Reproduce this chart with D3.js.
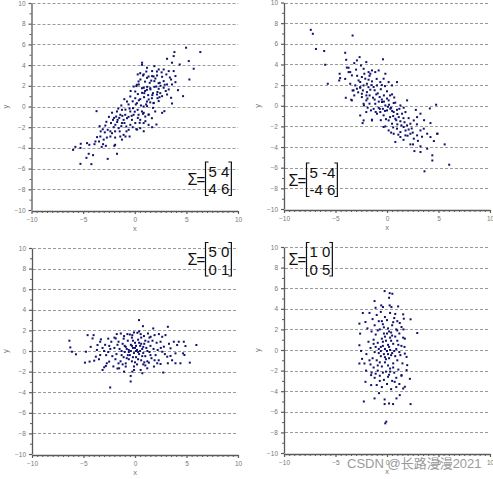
<!DOCTYPE html>
<html>
<head>
<meta charset="utf-8">
<script src="https://cdn.jsdelivr.net/npm/d3@7"></script>
<style>
html,body{margin:0;padding:0;background:#fff;}
svg{display:block;}
</style>
</head>
<body>
<svg id="chart" width="493" height="479"></svg>
<script>
// ---------------- data ----------------
const matrixA = ["5 4", "4 6"];
const matrixB = ["5 -4", "-4 6"];
const matrixC = ["5 0", "0 1"];
const matrixD = ["1 0", "0 5"];

const yMajorTicks = [-10,-8,-6,-4,-2,0,2,4,6,8,10];
const xMajorTicks = [-10,-5,0,5,10];
const gridValues = [-8,-6,-4,-2,0,2,4,6,8,10];

const pointsA = [
[-5.97,-4.19],[-5.75,-3.9],[-5.26,-4.0],[-5.23,-3.6],[-5.26,-5.54],[-4.46,-4.57],[-4.68,-4.96],[-4.2,-5.57],[-4.04,-4.7],[-4.62,-3.54],[-4.4,-3.7],[-3.81,-3.38],[-3.9,-3.64],[-3.65,-2.96],[-3.33,-2.9],[-3.46,-3.38],[-3.2,-3.9],[-3.07,-3.64],[-3.01,-3.2],[-2.62,-5.06],[-1.98,-3.8],[-1.72,-4.57],[-2.85,-1.84],[-2.75,-1.48],[-2.62,-2.25],[-2.36,-2.4],[-2.36,-2.9],[-2.2,-2.58],[-2.04,-2.0],[-1.88,-1.77],[-2.11,-1.29],[-1.8,-0.97],[-1.72,-0.48],[-1.66,-1.29],[-1.56,-2.09],[-1.46,-2.4],[-1.4,-2.9],[-1.24,-3.2],[-1.08,-2.74],[-1.24,-1.6],[-1.08,-1.29],[-1.4,-0.8],[-1.24,-0.32],[-0.92,-0.8],[-0.75,-1.13],[-0.82,-1.93],[-0.59,-2.25],[-0.5,-2.9],[-0.43,-1.77],[-0.27,-1.29],[-0.11,-0.8],[-0.43,-0.48],[-0.17,-0.16],[-0.75,0.48],[-1.01,0.71],[-0.43,0.97],[0.05,0.8],[0.21,0.32],[0.28,-0.32],[0.37,-0.8],[0.53,-1.29],[0.05,-1.6],[0.15,-2.19],[0.53,-2.09],[0.86,-1.6],[1.02,-0.97],[0.7,-0.48],[0.86,0],[1.18,0.48],[0.53,0.71],[0.92,1.29],[0.7,1.77],[1.18,1.61],[1.5,1.77],[1.76,1.29],[1.66,0.8],[1.82,0.32],[1.98,-0.48],[1.34,-0.8],[1.66,-1.13],[1.34,-1.77],[0.7,4.03],[1.12,3.38],[0.53,3.22],[1.34,2.9],[0.37,2.42],[-0.11,1.93],[0.05,1.45],[2.15,3.38],[1.82,2.9],[2.31,2.25],[2.08,1.93],[2.47,1.29],[2.21,0.8],
[-3.7,-0.45],[-2.5,-1.0],[-2.3,-1.6],[-2.0,-1.1],[-1.9,-2.4],[-1.7,-1.5],[-1.5,-1.1],[-1.3,-1.9],[-1.2,-0.9],[-1.0,-1.6],[-0.9,-0.3],[-0.8,-2.4],[-0.6,-1.0],[-0.5,-0.2],[-0.3,-0.9],[-0.2,-2.0],[0.0,-0.5],[0.1,0.2],[0.3,-1.1],[0.4,0.6],[0.6,0.1],[0.8,-0.7],[0.9,0.9],[1.1,0.2],[1.3,1.1],[1.5,0.4],[-1.6,-0.2],[-2.2,-0.6],[-2.9,-2.5],[-3.1,-2.2],[-2.7,-3.0],[-1.9,-3.0],[-0.9,-2.9],[-0.2,0.5],[0.3,1.2],[-0.6,0.2],[-1.3,0.1],[-0.4,1.5],[0.2,2.1],[1.0,2.4],[0.8,3.0],[-3.4,-1.9],[-3.3,-2.4],[-2.8,-3.8],[-1.9,-3.7],
[0.71,4.23],[1.19,3.74],[1.9,3.9],[2.32,3.58],[2.8,3.58],[3.13,4.61],[3.77,4.87],[3.84,5.26],[4.97,5.68],[6.35,5.26],[5.23,4.39],[5.71,3.65],[4.35,4.06],[3.61,4.23],[3.29,3.42],[3.77,3.42],[3.94,2.94],[3.52,2.61],[3.06,3.1],[2.65,2.87],[2.16,3.0],[1.68,2.94],[1.19,2.77],[1.45,2.29],[1.9,2.45],[2.42,2.29],[2.8,2.45],[3.13,2.13],[3.61,2.13],[3.94,2.35],[3.29,1.65],[2.8,1.81],[2.32,1.71],[1.9,1.9],[1.52,1.65],[2.16,1.16],[2.65,1.0],[3.13,1.16],[3.52,0.84],[4.19,1.58],[4.68,1.0],[5.29,2.61],[3.61,0.29],[2.87,-0.45],[2.65,-0.61],[2.1,-1.74],[1.68,-2.0],[1.84,0.35],[1.35,0.68],[2.32,0.52],[1.77,-0.13],[1.19,0.03],[0.87,-0.61],[1.35,-0.77],[0.87,-2.39],[0.23,-2.23],[0.48,-1.58],[1.03,-1.42],[0.71,1.32],[0.87,1.81],[0.39,2.13],[0.55,2.61],[0.87,3.1],[0.29,3.1],[0.16,1.97],[1.68,3.42],
[2.5,2.0],[2.0,2.7],[1.6,2.5],[2.9,2.1],[3.4,2.8],[2.2,1.4],[1.2,1.9],[2.6,3.3],[3.0,1.5],[1.0,1.5],[2.4,0.9],[1.7,1.1]
];

const pointsB = [
[-7.4,7.35],[-7.2,6.97],[-6.9,5.5],[-6.1,5.3],[-6.0,3.97],[-5.75,2.13],[-3.34,6.8],[-4.06,5.13],[-3.96,4.45],[-4.6,3.1],[-4.55,2.68],[-4.64,2.45],[-4.0,0.77],[-0.39,4.5],[6.04,-5.71],[5.6,-3.74],[4.9,-2.71],[4.77,0.1],[4.4,-4.8],[4.4,-5.3],[3.64,-6.35],[4.16,-0.26],[4.22,-1.68],
[-3.18,4.13],[-2.92,4.39],[-2.66,4.71],[-3.73,3.68],[-3.57,3.26],[-3.41,2.94],[-3.41,0.52],[-3.08,1.97],[-3.25,1.49],[-2.92,1.65],[-2.6,1.81],[-2.53,3.9],[-2.27,3.58],[-2.01,4.23],[-1.79,3.26],[-1.62,3.1],[-1.46,3.42],[-1.14,3.26],[-0.81,3.42],[-2.44,2.78],[-2.11,2.62],[-1.79,2.52],[-1.46,2.36],[-1.95,2.13],[-2.27,1.97],[-2.34,1.49],[-1.95,1.32],[-1.62,1.55],[-1.3,1.81],[-0.97,1.97],[-0.65,2.29],[-0.33,2.62],[-0.16,3.1],[0.16,2.29],[0.49,1.97],[0.97,2.29],[-2.44,0.84],[-2.01,0.52],[-1.69,1.0],[-1.36,0.78],[-1.04,1.1],[-0.71,0.84],[-2.27,0.19],[-1.88,-0.19],[-1.56,-0.45],[-2.27,-1.42],[-1.46,-1.35],[-1.14,0.19],[-0.81,-0.19],[-0.49,0.36],[-0.16,0.03],[0.16,0.52],[0.49,1.1],[0.65,0.26],[-0.97,-0.77],[-0.65,-0.61],[-0.33,-0.93],[0,-0.45],[0.32,-0.29],[0.65,-0.61],[0.97,-0.39],[1.3,0.03],[-0.33,-2.06],[-0.16,-2.0],[0.16,-1.42],[0.49,-1.74],[0.81,-1.26],[1.14,-1.1],[1.46,-0.77],[1.79,-0.61],[1.62,-0.19],[1.95,0.52],[0.16,-2.39],[0.65,-2.71],[0.97,-2.22],[1.3,-2.55],[1.62,-2.06],[1.95,-1.9],[2.27,-1.74],[2.6,-1.42],[2.92,-1.1],[3.25,-0.77],[0.81,-3.51],[1.3,-3.03],[1.79,-2.87],[2.27,-2.71],[2.6,-3.19],[2.92,-2.87],[3.25,-2.39],[3.57,-2.22],[3.9,-2.71],[2.27,-3.74],[2.53,-3.74],[3.25,-3.93],[3.9,-4.16],[4.22,-3.03],[4.55,-3.42],[4.87,-2.71],[2.66,-4.39],[3.25,-4.48],
[-4.06,2.6],[-3.73,3.26],[-3.57,2.13],[-3.34,1.48],[-3.18,1.0],[-3.47,0.58],[-2.76,2.45],[-2.6,1.74],[-2.44,1.16],[-2.6,-0.94],[-2.37,-1.68],[-2.24,0.03],[-2.01,-0.61],[-1.46,-1.42],
[-1.2,1.5],[-0.9,1.2],[-0.6,1.6],[-0.3,1.0],[0,1.4],[0.3,1.0],[-0.5,0.6],[0.1,-0.1],[0.4,-0.2],[0.8,0.3],[1.0,-0.8],[1.3,-1.5],[1.6,-1.2],[0.6,-1.0],[0.3,-1.1],[-0.1,-1.3],[1.0,-1.8],[1.8,-2.4],[2.1,-1.2],[2.4,-2.2],[0.2,0.1],[-0.4,-0.3],[-1.7,0.2],[-1.3,-0.3],[-2.0,1.0],[-2.6,2.3],[-2.9,2.9],[-1.5,2.0],[-0.2,1.9],[0.7,0.8],[1.2,-0.3],[1.7,-1.6],[2.0,-2.9],[2.9,-1.8],[3.4,-3.0],[3.0,-3.4],[0.4,-2.6],[-0.7,-0.3],[-1.9,0.7],
[-1.0,2.6],[-0.5,2.0],[-1.7,2.9],[-2.2,3.1],[-3.0,3.5],[-1.2,0.6],[-0.8,0.4],[-0.2,-0.5],[0.5,-0.5],[0.9,-1.4],[1.4,-1.9],[2.1,-2.3],[2.5,-2.6],[1.1,-2.8],[-0.6,-1.4],[-1.8,1.8],[-2.8,1.3],[-0.3,0.4],[0.6,-2.1],[1.6,-3.3],[2.8,-0.4],[3.6,-1.4],[-3.9,3.7],[-1.1,-0.6],[0.0,0.7]
];

const pointsC = [
[-6.37,1.0],[-6.28,0.35],[-6.12,-0.07],[-5.73,-0.32],[-4.76,-0.07],[-4.86,-1.13],[-4.6,1.54],[-4.02,1.54],[-4.12,1.22],[-4.41,-1.03],[-3.96,-0.94],[-3.64,0.58],[-3.7,0.1],[-3.31,1.13],[-3.38,0.9],[-3.8,-0.55],[-3.38,-0.39],[-3.15,-1.84],[-2.99,-1.58],[-2.83,-1.45],[-2.74,-1.19],[-2.51,-1.03],[-2.41,-3.54],[0.39,3.0],[-0.42,-2.96],[-0.42,-2.42],
[-3.15,0.3],[-2.9,0.6],[-2.6,-0.1],[-2.8,-0.4],[-2.4,0.2],[-2.2,-0.5],[-2.3,0.9],[-2.0,1.3],[-2.6,1.2],[-1.9,-0.8],[-2.1,-1.5],[-1.7,-1.7],[-3.5,-0.8],[-3.0,0.0],
[-1.87,1.22],[-1.77,1.64],[-1.38,1.7],[-1.06,1.45],[-0.74,1.64],[-0.26,1.54],[0.23,1.77],[0.55,1.64],[0.77,2.41],[0.87,1.45],[1.26,1.7],[1.52,1.38],[1.77,2.19],[1.9,1.54],[2.32,1.64],[2.64,1.38],[2.96,1.54],[3.19,2.35],
[3.77,0.9],[4.25,0.9],[4.74,0.9],[4.9,0.48],[4.67,-0.23],[4.8,-0.39],[3.93,-0.23],[3.45,-0.48],[3.13,-0.55],[4.41,-1.19],[5.32,-1.13],[5.96,0.58],[3.93,-1.19],[3.19,-1.19],[4.09,0.58],[3.45,0.26],[2.8,0.42],[2.64,-0.07],[2.48,0.9],
[2.16,-1.19],[2.48,-1.26],[2.74,-2.09],[1.84,-1.51],[1.19,-1.68],[0.55,-1.84],[-0.09,-1.84],[-0.26,-2.0],[-0.9,-1.51],[-1.54,-1.68],[-1.06,-2.0],[0.71,-2.16],[1.35,-1.13],
[-1.5,0.2],[-1.3,-0.4],[-1.2,0.7],[-1.0,-0.1],[-0.9,0.4],[-0.8,-0.7],[-0.7,1.0],[-0.6,0.1],[-0.5,-0.4],[-0.4,0.6],[-0.3,-1.0],[-0.2,0.3],[-0.1,-0.2],[0.0,0.8],[0.1,-0.6],[0.2,0.1],[0.3,1.1],[0.4,-0.3],[0.5,0.5],[0.6,-0.9],[0.7,0.2],[0.8,-0.2],[0.9,0.7],[1.0,-0.5],[1.1,0.3],[1.2,-1.0],[1.3,0.9],[1.4,-0.1],[1.5,0.5],[-1.4,-1.0],[-1.1,1.2],[-0.9,-1.2],[-0.3,1.3],[0.2,-1.3],[0.6,1.3],[1.0,1.0],[1.6,-0.7],[1.8,0.2],[2.0,-0.4],[2.1,0.8],[-1.7,0.6],[-1.8,-0.3],[-0.6,-0.1],[0.0,0.3],[0.3,-0.1],[-0.2,-0.6],[0.5,0.0],[-0.4,0.0],[0.8,0.4],[-1.0,0.5],[0.1,0.5],[-0.7,-0.4],[0.4,0.8],[1.2,0.0],[-1.3,0.0],[2.3,-0.9],[2.5,0.3],[2.9,-0.3],[3.3,0.7],[-0.1,1.8],[0.4,1.9],[-0.5,1.6],[1.0,-1.4],[-0.1,-1.5],[0.9,-1.1],[1.7,1.0],[-2.0,0.3],[-1.6,-1.2],
[-0.8,0.2],[-0.3,0.5],[0.1,0.0],[0.6,0.7],[-1.1,-0.6],[0.3,-0.8],[0.8,-1.3],[1.5,-0.4],[-1.6,0.9],[-0.6,-0.8],[1.9,-0.9],[2.2,0.1],[-2.5,0.5],[-1.2,-1.3],[0.0,-1.1],[1.4,1.3],[-0.2,1.0],[0.7,-0.5],[3.6,-0.9],[-4.3,0.4]
];

const pointsD = [
[-0.23,5.72],[0.26,5.52],[0.52,5.46],[0.2,5.07],[-1.21,4.75],[-0.56,4.33],[-0.39,4.17],[-1.11,4.1],[0.26,4.33],[0.43,4.17],[1.08,4.23],[-2.35,3.59],[-2.09,2.72],[-2.68,2.56],[-2.61,1.59],[1.57,3.46],[1.63,3.04],[2.29,2.98],[2.94,1.65],[-2.68,0.46],[-2.52,-0.09],[-2.42,-0.86],[-2.19,-1.31],[-2.68,-1.31],[-2.03,-2.0],[-2.09,-3.09],[-1.54,-2.44],[-1.54,-3.41],[-2.25,-5.0],[-1.21,-4.7],[-0.78,-4.19],[-0.23,-4.8],[-0.23,-5.25],[0.2,-5.19],[0.59,-5.25],[2.29,-5.25],[-0.07,-6.96],[-0.17,-7.12],[1.9,-1.96],[1.96,-1.47],[2.22,-2.8],[1.73,-3.57],[1.57,-3.74],[1.24,-4.38],[0.92,-4.7],[0.75,-3.09],[1.41,-2.44],[1.9,-0.67],[1.73,-0.35],[1.73,1.1],[1.57,1.2],[1.24,2.62],[1.41,2.23],
[-1.4,3.0],[-1.0,3.4],[-0.6,3.7],[-0.2,3.2],[0.3,3.6],[0.7,3.1],[1.0,2.8],[-1.2,2.4],[-0.8,2.8],[-0.4,2.5],[0.0,2.9],[0.5,2.4],[0.9,2.0],[-1.5,1.8],[-1.1,1.5],[-0.7,2.0],[-0.3,1.6],[0.1,2.1],[0.4,1.7],[0.8,1.3],[1.2,1.6],[-1.3,1.0],[-0.9,0.7],[-0.5,1.1],[-0.1,0.9],[0.3,1.2],[0.6,0.6],[1.0,0.9],[1.4,0.4],[-1.6,0.2],[-1.2,-0.2],[-0.8,0.1],[-0.4,0.4],[0.0,-0.1],[0.2,0.3],[0.5,-0.3],[0.9,0.1],[1.3,-0.5],[-1.4,-0.8],[-1.0,-1.0],[-0.6,-0.6],[-0.2,-1.2],[0.2,-0.8],[0.6,-1.3],[1.0,-1.0],[1.5,-1.3],[-1.3,-1.7],[-0.9,-2.0],[-0.5,-1.6],[-0.1,-2.1],[0.3,-1.8],[0.7,-2.2],[1.1,-1.9],[-1.2,-2.7],[-0.7,-2.5],[-0.3,-2.9],[0.1,-2.6],[0.5,-3.0],[0.9,-2.7],[-1.0,-3.4],[-0.5,-3.6],[0.0,-3.3],[0.4,-3.8],[1.2,-3.3],[-1.7,-1.0],[-1.8,0.8],[-1.9,2.1],[1.7,0.3],[-0.3,-0.4],[0.1,0.5],[-0.6,-0.1],[0.4,-0.5],[0.8,-0.6],[-0.2,1.3],[0.3,0.0],[-0.9,1.9],[0.6,2.7],[-0.4,-2.2],[0.2,-2.4],[-0.7,-1.2],[0.0,1.6],[-1.1,0.3],[1.1,0.5],[-0.2,-0.7],[0.7,-0.1],[-0.8,-0.3],[0.1,-1.5],[-0.4,0.8],[-1.5,-2.2],[1.4,-2.5],[1.6,2.0],[-1.7,3.6],[-2.0,-0.4],
[-0.6,0.3],[0.4,0.9],[-0.1,-0.9],[0.6,-1.7],[-0.9,-1.5],[0.2,1.8],[-0.5,2.8],[0.8,3.5],[-1.1,-2.3],[0.3,-2.1],[-0.3,2.2],[1.2,-0.2],[-1.3,0.6],[0.5,1.4],[-0.7,-3.0],[0.9,-3.6],[-0.2,0.1],[1.0,1.9],[-1.6,-1.4],[0.1,-0.4]
];

// ---------------- layout ----------------
const panels = [
  {pts: pointsA, mat: matrixA, left: 31.5, right: 238, top: 3, bottom: 210, mx: 205, my: 162},
  {pts: pointsB, mat: matrixB, left: 284, right: 490, top: 2.5, bottom: 209, mx: 306, my: 163},
  {pts: pointsC, mat: matrixC, left: 32, right: 238, top: 248, bottom: 454, mx: 205, my: 242.5},
  {pts: pointsD, mat: matrixD, left: 284, right: 490, top: 247, bottom: 453, mx: 306, my: 242.5}
];

const svg = d3.select("#chart");
const FONT = "'Liberation Sans', Arial, sans-serif";
const axisCol = "#5a5a5a";
const labCol = "#777";

panels.forEach(p => {
  const x = d3.scaleLinear().domain([-10, 10]).range([p.left, p.right]);
  const y = d3.scaleLinear().domain([-10, 10]).range([p.bottom, p.top]);
  const g = svg.append("g");

  // grid
  g.selectAll("line.grid").data(gridValues).enter().append("line")
    .attr("x1", p.left + 1).attr("x2", p.right)
    .attr("y1", d => Math.round(y(d)) + 0.5).attr("y2", d => Math.round(y(d)) + 0.5)
    .attr("stroke", "#9a9a9a").attr("stroke-width", 1)
    .attr("stroke-dasharray", "3,2");

  // minor y ticks
  const yMinor = g.append("g").attr("transform", `translate(${p.left},0)`)
    .call(d3.axisLeft(y).tickValues(d3.range(-9, 10, 2)).tickSize(2).tickFormat(""));
  yMinor.select(".domain").remove();
  yMinor.selectAll("line").attr("stroke", axisCol);

  // major y axis
  const yAx = g.append("g").attr("transform", `translate(${p.left},0)`)
    .call(d3.axisLeft(y).tickValues(yMajorTicks).tickSize(3).tickSizeOuter(0).tickPadding(3));
  yAx.select(".domain").attr("stroke", axisCol).attr("stroke-width", 1.3);
  yAx.selectAll("line").attr("stroke", axisCol).attr("stroke-width", 1.2);
  yAx.selectAll("text").attr("fill", labCol).style("font-family", FONT).style("font-size", "6.5px");

  // minor x ticks
  const xMinor = g.append("g").attr("transform", `translate(0,${p.bottom + 1})`)
    .call(d3.axisBottom(x).tickValues(d3.range(-9.5, 10, 0.5).filter(v => v % 5 !== 0)).tickSize(2).tickFormat(""));
  xMinor.select(".domain").remove();
  xMinor.selectAll("line").attr("stroke", axisCol);

  // major x axis
  const xAx = g.append("g").attr("transform", `translate(0,${p.bottom + 1})`)
    .call(d3.axisBottom(x).tickValues(xMajorTicks).tickSize(3).tickSizeOuter(0).tickPadding(3));
  xAx.select(".domain").attr("stroke", axisCol).attr("stroke-width", 1.3);
  xAx.selectAll("line").attr("stroke", axisCol).attr("stroke-width", 1.2);
  xAx.selectAll("text").attr("fill", labCol).style("font-family", FONT).style("font-size", "6.5px");

  // axis titles
  g.append("text").attr("x", (p.left + p.right) / 2).attr("y", p.bottom + 21)
    .attr("text-anchor", "middle").attr("fill", labCol)
    .style("font-family", FONT).style("font-size", "7.5px").text("x");
  g.append("text").attr("transform", `translate(${p.left - 24},${(p.top + p.bottom) / 2}) rotate(-90)`)
    .attr("text-anchor", "middle").attr("fill", labCol)
    .style("font-family", FONT).style("font-size", "7.5px").text("y");

  // points
  g.selectAll("rect.pt").data(p.pts).enter().append("rect")
    .attr("x", d => x(d[0]) - 1).attr("y", d => y(d[1]) - 1)
    .attr("width", 2).attr("height", 2)
    .attr("fill", "#10106e");

  // sigma matrix
  const m = g.append("g");
  m.append("text").attr("x", p.mx - 17.5).attr("y", p.my + 22.5)
    .style("font-family", FONT).style("font-size", "16px").attr("fill", "#111").text("Σ");
  m.append("text").attr("x", p.mx - 8.5).attr("y", p.my + 22.5)
    .style("font-family", FONT).style("font-size", "15px").attr("fill", "#111").text("=");
  const rows = m.selectAll("text.row").data(p.mat).enter().append("text")
    .attr("x", p.mx + 3.5).attr("y", (d, i) => p.my + 14.5 + i * 17.5)
    .style("font-family", FONT).style("font-size", "15px").attr("fill", "#111").text(d => d);
  let maxW = 0;
  rows.each(function () { maxW = Math.max(maxW, this.getComputedTextLength()); });
  const h = 33.5;
  const bx1 = p.mx + 0.5, bx2 = p.mx + 3.5 + maxW + 2;
  m.append("path")
    .attr("d", `M${bx1 + 3},${p.my} H${bx1} V${p.my + h} H${bx1 + 3}`)
    .attr("fill", "none").attr("stroke", "#111").attr("stroke-width", 1.2);
  m.append("path")
    .attr("d", `M${bx2 - 3},${p.my} H${bx2} V${p.my + h} H${bx2 - 3}`)
    .attr("fill", "none").attr("stroke", "#111").attr("stroke-width", 1.2);
});

// watermark (overlaps the bottom-right axis labels, as in the reference)
svg.append("text").attr("x", 347).attr("y", 468)
  .style("font-family", "'Liberation Sans', 'Noto Sans CJK SC', sans-serif")
  .style("font-size", "13px").attr("fill", "#9a9a9a")
  .text("CSDN @长路漫漫2021");
</script>
</body>
</html>
